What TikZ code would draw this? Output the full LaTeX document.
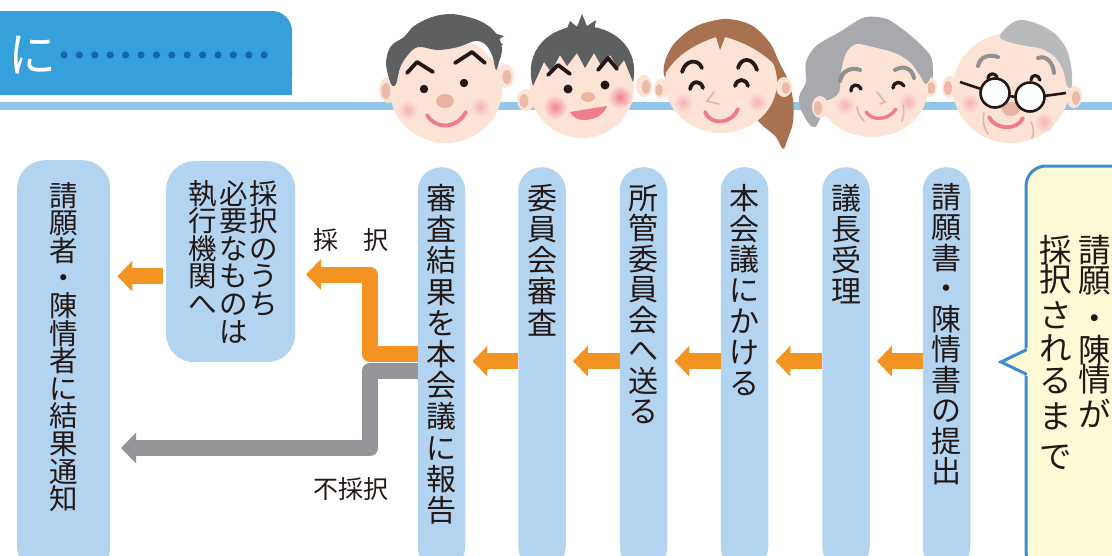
\documentclass[tikz,border=0pt]{standalone}
\usepackage{fontspec}
\newfontfamily\jp{Noto Sans CJK JP}
\usetikzlibrary{arrows.meta}

\definecolor{ink}{HTML}{231815}
\definecolor{colblue}{HTML}{B2D4F0}
\definecolor{arrorange}{HTML}{F39322}
\definecolor{arrgray}{HTML}{939598}
\definecolor{tabblue}{HTML}{35A0D9}
\definecolor{dotblue}{HTML}{1366B4}
\definecolor{rulecol}{HTML}{92C6EB}
\definecolor{bubbleline}{HTML}{3A8ECF}
\definecolor{bubblefill}{HTML}{FEFAD6}
\definecolor{skin}{HTML}{FDE3D5}
\definecolor{earin}{HTML}{EBBBA6}
\definecolor{nosec}{HTML}{EAB5A0}
\definecolor{cheek}{HTML}{F6B2B9}
\definecolor{cheekboy}{HTML}{F0808F}
\definecolor{mouthc}{HTML}{EE7C89}
\definecolor{hairdark}{HTML}{5E5F61}
\definecolor{hairbrown}{HTML}{A8714F}
\definecolor{hairgray}{HTML}{A7A9AC}
\definecolor{hairlight}{HTML}{B9BABC}
\definecolor{browgray}{HTML}{8E9092}
\definecolor{wrinkle}{HTML}{E3B3A0}

\tikzset{
  colbox/.style={fill=colblue, rounded corners=23.5pt, minimum width=47.5pt,
    minimum height=403pt, inner sep=0pt, anchor=north},
  roundbox/.style={fill=colblue, rounded corners=28pt, inner sep=0pt, anchor=north west},
  vtext/.style={text=ink, align=center, inner sep=0pt, anchor=north,
    font={\jp\fontsize{30}{30.5}\selectfont\lineskiplimit=-20pt}},
  vsmall/.style={vtext, font={\jp\fontsize{28.5}{27.6}\selectfont\lineskiplimit=-20pt}},
  vbig/.style={vtext, font={\jp\fontsize{32.5}{29.5}\selectfont\lineskiplimit=-20pt}},
  label/.style={text=ink, inner sep=0pt, font={\jp\fontsize{25}{25}\selectfont}},
  oarr/.style={draw=arrorange, line width=16pt, line cap=butt,
    -{Triangle[width=30pt,length=15pt]}},
  branch/.style={line width=16pt, line cap=butt, line join=round,
    -{Triangle[width=30pt,length=15pt]}},
  brow/.style={draw=ink, line width=3.8pt, line cap=round, line join=round},
  browg/.style={draw=browgray, line width=4pt, line cap=round},
  smile/.style={draw=mouthc, line width=3.8pt, line cap=round},
  fold/.style={draw=wrinkle, line width=1.6pt, line cap=round},
  glass/.style={draw=ink, line width=2.6pt, fill=white},
}

\begin{document}
\begin{tikzpicture}[x=1pt, y=-1pt]
\useasboundingbox (0,0) rectangle (1112,555);
\clip (0,0) rectangle (1112,555);

% ---------- heading tab ----------
\fill[tabblue, rounded corners=20pt] (-40,11) rectangle (292,95);
\fill[tabblue] (250,60) rectangle (292,95);
\node[text=white, inner sep=0pt, font={\jp\fontsize{48}{48}\selectfont}] (title) at (33,55) {に};
\foreach \i in {0,...,13} \fill[dotblue] (64+15.4*\i,55) circle (3.6pt);

% ---------- rule behind the faces ----------
\fill[rulecol] (0,102) rectangle (1112,110);

% ---------- face 1: man ----------
\fill[skin] (388,90) ellipse [x radius=9pt, y radius=13pt];
\fill[earin] (386,91) ellipse [x radius=4.5pt, y radius=8pt];
\fill[skin] (505,76) ellipse [x radius=9pt, y radius=12pt];
\fill[earin] (507,77) ellipse [x radius=4.5pt, y radius=7pt];
\fill[skin] (446,90) ellipse [x radius=56pt, y radius=53pt];
\fill[hairdark] plot[smooth cycle, tension=0.55] coordinates {
  (391,84) (386,63) (391,46) (404,37) (414,26) (432,17) (452,14) (475,19)
  (490,27) (499,38) (502,50) (499,62) (496,70) (492,55) (485,44) (475,41)
  (458,47) (438,50) (418,47) (407,56) (400,68) (396,84)};
\fill[hairdark] (494,33) -- (504,36) -- (498,40) -- (503,45) -- (496,46) -- cycle;
\draw[brow] (407,73) -- (417,62) -- (433,72);
\draw[brow] (455,63) -- (472,52) -- (485,63);
\fill[ink] (424,89) circle (4.2pt);
\fill[ink] (464,83) circle (4.2pt);
\shade[inner color=cheek, outer color=skin] (408,110) circle (10pt);
\shade[inner color=cheek, outer color=skin] (480,107) circle (10pt);
\fill[nosec] (445,101) ellipse [x radius=9pt, y radius=7pt];
\draw[smile] (427,115) .. controls (435,129) and (456,130) .. (466,112);

% ---------- face 2: boy ----------
\fill[skin] (526,100) ellipse [x radius=9pt, y radius=11pt];
\fill[earin] (524,101) ellipse [x radius=4.5pt, y radius=7pt];
\fill[skin] (644,86) ellipse [x radius=8pt, y radius=11pt];
\fill[earin] (646,87) ellipse [x radius=4pt, y radius=7pt];
\fill[skin] (582,88) ellipse [x radius=52pt, y radius=50pt];
\fill[hairdark] (533,86) .. controls (523,52) and (548,26) .. (582,26)
  .. controls (616,26) and (640,50) .. (633,82)
  -- (624,60) -- (618,68) -- (610,55) -- (602,67) -- (594,53) -- (585,68)
  -- (577,53) -- (567,66) -- (560,55) -- (551,72) -- (544,62) -- cycle;
\fill[hairdark] (566,31) -- (570,21) -- (577,27) -- (582,14) -- (587,26)
  -- (596,20) -- (594,31) -- cycle;
\draw[brow] (548,75) -- (558,65) -- (570,74);
\draw[brow] (598,70) -- (608,58) -- (617,69);
\fill[ink] (568,89) circle (4.5pt);
\fill[ink] (605,85) circle (4.5pt);
\shade[inner color=cheekboy, outer color=skin] (555,107) circle (12pt);
\shade[inner color=cheekboy, outer color=skin] (620,97) circle (12pt);
\fill[nosec] (588,97) ellipse [x radius=7pt, y radius=5pt];
\fill[mouthc] (570,112) -- (607,106) .. controls (603,117) and (592,120) .. (583,120)
  .. controls (577,120) and (572,116) .. cycle;

% ---------- face 3: woman ----------
\fill[hairbrown] plot[smooth cycle, tension=0.55] coordinates {
  (665,78) (671,48) (693,29) (723,19) (751,25) (770,43) (779,62) (788,80)
  (793,100) (793,122) (788,138) (783,149) (776,137) (763,126) (745,112) (700,110)};
\fill[skin] (661,89) ellipse [x radius=7pt, y radius=10pt];
\fill[earin] (659,90) ellipse [x radius=3.5pt, y radius=6pt];
\fill[skin] (784,87) ellipse [x radius=8pt, y radius=10pt];
\fill[earin] (786,88) ellipse [x radius=4pt, y radius=6pt];
\fill[skin] (721,82) ellipse [x radius=56pt, y radius=51pt];
\fill[hairbrown] (665,74) .. controls (666,40) and (695,20) .. (723,20)
  .. controls (752,20) and (776,40) .. (779,70)
  .. controls (768,55) and (745,42) .. (725,37) -- (720,50) -- (716,37)
  .. controls (695,44) and (676,55) .. cycle;
\draw[brow] (682,72) .. controls (685,60) and (698,58) .. (702,68);
\draw[brow] (738,68) .. controls (741,57) and (753,57) .. (757,70);
\draw[brow] (690,89) .. controls (692,80) and (701,80) .. (703,88);
\draw[brow] (735,86) .. controls (737,78) and (746,78) .. (748,86);
\draw[fold, draw=nosec, line width=1.8pt] (714,92) -- (707,101) -- (719,104);
\shade[inner color=cheek, outer color=skin] (683,103) circle (10pt);
\shade[inner color=cheek, outer color=skin] (757,102) circle (10pt);
\draw[smile] (705,112) .. controls (710,125) and (731,125) .. (738,109);

% ---------- face 4: grandmother ----------
\fill[hairgray] plot[smooth cycle, tension=0.55] coordinates {
  (815,127) (803,114) (799,97) (806,82) (806,62) (816,46) (836,35) (852,24)
  (866,17) (886,19) (903,31) (918,44) (930,55) (933,72) (928,86) (900,82)
  (860,82) (830,100)};
\fill[skin] (929,87) ellipse [x radius=8pt, y radius=10pt];
\fill[earin] (931,88) ellipse [x radius=4pt, y radius=6pt];
\fill[skin] (872,88) ellipse [x radius=56pt, y radius=49pt];
\fill[hairgray] plot[smooth cycle, tension=0.5] coordinates {
  (810,96) (806,66) (818,45) (838,33) (855,23) (868,17) (887,19) (905,31)
  (920,44) (931,57) (932,73) (926,84) (919,74) (910,62) (895,53) (873,47)
  (856,44) (846,53) (841,72) (839,92) (828,100)};
\fill[skin] (820,107) ellipse [x radius=8pt, y radius=11pt];
\fill[earin] (818,108) ellipse [x radius=4pt, y radius=7pt];
\draw[browg] (840,81) .. controls (842,70) and (852,67) .. (860,70);
\draw[browg] (895,70) .. controls (903,65) and (912,68) .. (914,78);
\draw[brow, line width=3.4pt] (851,91) .. controls (851,84) and (858,83) .. (861,89);
\draw[brow, line width=3.4pt] (893,88) .. controls (894,81) and (901,81) .. (904,86);
\shade[inner color=cheek, outer color=skin] (845,105) circle (10pt);
\shade[inner color=cheek, outer color=skin] (908,102) circle (10pt);
\draw[fold] (877,92) -- (885,102) -- (880,104);
\draw[fold] (857,107) .. controls (858,113) and (860,117) .. (864,121);
\draw[fold] (903,105) .. controls (904,112) and (904,116) .. (902,121);
\draw[smile, line width=3.4pt] (866,112) .. controls (872,121) and (888,121) .. (896,109);

% ---------- face 5: grandfather ----------
\fill[skin] (950,87) ellipse [x radius=8pt, y radius=11pt];
\fill[earin] (948,88) ellipse [x radius=4pt, y radius=7pt];
\fill[skin] (1074,97) ellipse [x radius=8pt, y radius=11pt];
\fill[earin] (1076,98) ellipse [x radius=4pt, y radius=7pt];
\fill[skin] (1011,88) ellipse [x radius=58pt, y radius=55pt];
\fill[hairlight] plot[smooth cycle, tension=0.55] coordinates {
  (1000,37) (1008,26) (1020,20) (1038,24) (1055,34) (1066,48) (1071,66)
  (1072,86) (1067,86) (1063,70) (1055,57) (1042,49) (1027,46) (1012,43)};
\draw[browg] (978,66) .. controls (980,56) and (990,54) .. (998,57);
\draw[browg] (1038,58) .. controls (1046,55) and (1053,62) .. (1054,73);
\draw[brow, line width=3.2pt] (988,79) .. controls (988,72) and (997,72) .. (997,79);
\draw[brow, line width=3.2pt] (1031,80) .. controls (1031,74) and (1039,74) .. (1040,80);
\shade[inner color=cheek, outer color=skin] (970,103) circle (10pt);
\shade[inner color=cheek, outer color=skin] (1044,122) circle (10pt);
\fill[nosec] (1011,109) ellipse [x radius=9pt, y radius=7pt];
\draw[fold] (984,113) .. controls (982,121) and (984,128) .. (988,134);
\draw[fold] (1031,122) .. controls (1034,128) and (1034,133) .. (1032,138);
\draw[smile] (989,117) .. controls (995,130) and (1017,131) .. (1023,118);
\draw[draw=ink, line width=2.6pt] (960,82) -- (981,89);
\draw[draw=ink, line width=2.6pt] (1044,96) -- (1066,93);
\draw[draw=ink, line width=2.6pt] (1009,96) -- (1016,97);
\draw[glass] (995,93) circle (14.5pt);
\draw[glass] (1030,97) circle (14.5pt);

% ---------- speech bubble ----------
\draw[draw=bubbleline, fill=bubblefill, line width=3pt, rounded corners=20pt]
  (1026,166) rectangle (1170,572);
\fill[bubblefill] (1001,362) -- (1029,347) -- (1029,377) -- cycle;
\draw[draw=bubbleline, line width=3pt, line join=miter, line cap=round]
  (1026,350) -- (1001,362) -- (1026,374);
\node[vbig] (bubbleA) at (1095,235) {請\\願\\[9pt]・\\[2pt]陳\\情\\[5pt]が};
\node[vbig] (bubbleB) at (1056,235) {採\\択\\[6.5pt]さ\\[3.5pt]れ\\[2.5pt]る\\[6.5pt]ま\\[10pt]で};

% ---------- steps ----------
\node[colbox] (c1) at (946.5,167) {};
\node[colbox] (c2) at (846,167) {};
\node[colbox] (c3) at (744.5,167) {};
\node[colbox] (c4) at (643.5,167) {};
\node[colbox] (c5) at (542,167) {};
\node[colbox] (c6) at (441.5,167) {};
\node[roundbox, minimum width=129pt, minimum height=201pt] (exec) at (166,161) {};
\node[roundbox, minimum width=93pt, minimum height=415pt] (result) at (17,160) {};

\node[vtext] (t1) at (946.5,183) {請\\願\\書\\・\\陳\\情\\書\\の\\提\\出};
\node[vtext, font={\jp\fontsize{30}{31}\selectfont\lineskiplimit=-20pt}] (t2) at (846,184) {議\\長\\受\\理};
\node[vtext, font={\jp\fontsize{30}{30.8}\selectfont\lineskiplimit=-20pt}] (t3) at (744.5,184) {本\\会\\議\\に\\か\\け\\る};
\node[vtext] (t4) at (643.5,184) {所\\管\\委\\員\\会\\へ\\送\\る};
\node[vtext, font={\jp\fontsize{30}{31.2}\selectfont\lineskiplimit=-20pt}] (t5) at (542,184) {委\\員\\会\\審\\査};
\node[vtext, font={\jp\fontsize{30}{31.2}\selectfont\lineskiplimit=-20pt}] (t6) at (441.5,184) {審\\査\\結\\果\\を\\本\\会\\議\\に\\報\\告};
\node[vsmall] (e1) at (264,180) {採\\択\\の\\う\\ち};
\node[vsmall] (e2) at (234,180) {必\\要\\な\\も\\の\\は};
\node[vsmall] (e3) at (203,180) {執\\行\\機\\関\\へ};
\node[vsmall] (r1) at (63.5,182) {請\\願\\者\\・\\陳\\情\\者\\に\\結\\果\\通\\知};

% ---------- flow arrows ----------
\draw[oarr] ([yshift=7.5pt]c1.west) -- ([xshift=7pt,yshift=7.5pt]c2.east);
\draw[oarr] ([yshift=7.5pt]c2.west) -- ([xshift=7pt,yshift=7.5pt]c3.east);
\draw[oarr] ([yshift=7.5pt]c3.west) -- ([xshift=7pt,yshift=7.5pt]c4.east);
\draw[oarr] ([yshift=7.5pt]c4.west) -- ([xshift=7pt,yshift=7.5pt]c5.east);
\draw[oarr] ([yshift=7.5pt]c5.west) -- ([xshift=7pt,yshift=7.5pt]c6.east);
\draw[oarr] ([xshift=-3pt,yshift=-14.5pt]exec.west) -- ([xshift=7pt,yshift=91.5pt]result.east);

\coordinate (adoptTip) at (306,274.5);
\coordinate (rejectTip) at (121,448);
\draw[branch, draw=arrgray] ([yshift=-2pt]c6.west) -| (370,448) -- (rejectTip);
\draw[branch, draw=arrorange] ([yshift=14.5pt]c6.west) -| (370,274.5) -- (adoptTip);

\node[label] (adoptLabel) at (351,240) {採　択};
\node[label] (rejectLabel) at (351,489) {不採択};

\end{tikzpicture}
\end{document}
